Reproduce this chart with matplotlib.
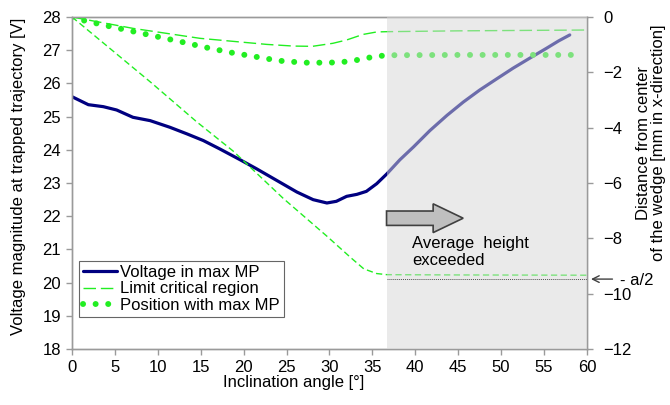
import matplotlib
matplotlib.use('Agg')
import matplotlib.pyplot as plt
from matplotlib.patches import FancyArrow

plt.rcParams['font.family'] = ['Liberation Sans', 'DejaVu Sans']
plt.rcParams['font.size'] = 12

# Voltage in max MP (left axis, V)
angle_v = [0, 1.9, 3.65, 5.2, 7.1, 9.1, 11.4, 13.4, 15.3, 17.2, 19.6, 21.5, 23.85,
           26.2, 28.1, 29.7, 30.8, 32.0, 33.2, 34.3, 35.5, 36.7, 38.2, 39.8, 41.7,
           43.7, 45.6, 47.5, 49.5, 51.4, 53.4, 55.3, 56.7, 58.0]
voltage = [25.60, 25.36, 25.30, 25.20, 24.98, 24.88, 24.68, 24.48, 24.28, 24.03,
           23.70, 23.43, 23.08, 22.73, 22.50, 22.40, 22.45, 22.60, 22.66, 22.75,
           22.98, 23.28, 23.70, 24.09, 24.58, 25.04, 25.44, 25.80, 26.14, 26.46,
           26.77, 27.06, 27.28, 27.46]

# Limit critical region (right axis, mm) - upper and lower branch
angle_lim_up = [0, 7.1, 14.9, 22.7, 25.8, 28.0, 30.4, 32.0, 33.9, 35.5, 36.7, 45, 60]
limit_up = [0, -0.41, -0.77, -0.99, -1.05, -1.06, -0.95, -0.83, -0.63, -0.54, -0.53,
            -0.50, -0.47]
angle_lim_lo = [0, 9.1, 14.5, 18.8, 24.6, 29.7, 32.5, 34.0, 35.5, 36.7, 45, 60]
limit_lo = [0, -2.34, -3.78, -4.85, -6.55, -7.92, -8.70, -9.10, -9.27, -9.31,
            -9.32, -9.33]

# Position with max MP (right axis, mm)
angle_pos = [0, 1.44, 4.27, 7.1, 9.94, 12.78, 15.6, 18.45, 21.28, 24.15, 27.0, 29.9,
             31.4, 32.8, 34.2, 35.7, 37.1, 45, 58.8]
position = [0, -0.13, -0.33, -0.52, -0.71, -0.90, -1.10, -1.28, -1.43, -1.58, -1.65,
            -1.65, -1.63, -1.58, -1.49, -1.41, -1.38, -1.37, -1.37]

half_a = -9.47          # - a/2 level
shade_start = 36.7      # average height exceeded

green = '#22ee22'
navy = '#000080'
spine_gray = '#9a9a9a'

fig, ax1 = plt.subplots(figsize=(6.7, 4.05), dpi=100)
fig.subplots_adjust(left=0.1075, right=0.876, bottom=0.138, top=0.958)
ax2 = ax1.twinx()

l1, = ax1.plot(angle_v, voltage, color=navy, lw=2.3, solid_joinstyle='round',
               solid_capstyle='round', label='Voltage in max MP')
l2, = ax2.plot(angle_lim_up, limit_up, color=green, lw=1.0, dashes=(9, 3.5),
               label='Limit critical region')
ax2.plot(angle_lim_lo, limit_lo, color=green, lw=1.0, dashes=(4.5, 2.5))
l3, = ax2.plot(angle_pos, position, color=green, lw=4.3, dash_capstyle='round',
               linestyle=(0, (0.01, 2.1)), label='Position with max MP')

ax2.plot([shade_start, 60], [half_a, half_a], color='#505050', lw=0.7, ls=(0, (1, 1)),
         zorder=6)

ax2.axvspan(shade_start, 60, color='#d6d6d6', alpha=0.51, lw=0, zorder=5)

arrow = FancyArrow(36.65, -7.27, 8.93, 0, width=0.52, head_width=1.04,
                   head_length=3.5, length_includes_head=True,
                   fc='#bfbfbf', ec='#404040', lw=1.2, zorder=7)
ax2.add_patch(arrow)
ax2.text(39.6, -7.9, 'Average  height\nexceeded', va='top', ha='left',
         linespacing=1.2, zorder=7)

ax2.annotate('', xy=(60.15, half_a), xytext=(63.3, half_a),
             arrowprops=dict(arrowstyle='->', color='#404040', lw=1.0),
             annotation_clip=False)
ax2.text(63.8, half_a - 0.05, '- a/2', va='center', ha='left')

ax1.set_xlim(0, 60)
ax1.set_ylim(18, 28)
ax2.set_ylim(-12, 0)
ax1.set_xticks(range(0, 61, 5))
ax1.set_yticks(range(18, 29))
ax2.set_yticks(range(-12, 1, 2))

for ax in (ax1, ax2):
    for s in ax.spines.values():
        s.set_color(spine_gray)
        s.set_linewidth(1.0)
ax1.tick_params(axis='both', color=spine_gray, length=4, width=1.0, pad=4)
ax2.tick_params(axis='y', color=spine_gray, length=4, width=1.0, pad=8)

ax1.set_xlabel('Inclination angle [°]')
ax1.xaxis.set_label_coords(0.43, -0.078)
ax1.set_ylabel('Voltage magnitude at trapped trajectory [V]')
ax1.yaxis.set_label_coords(-0.089, 0.52)
ax2.set_ylabel('Distance from center\nof the wedge [mm in x-direction]',
               multialignment='center', linespacing=1.0)
ax2.yaxis.set_label_coords(1.095, 0.62)

leg = ax2.legend(handles=[l1, l2, l3], loc='lower left',
                 bbox_to_anchor=(0.0136, 0.096), frameon=True, fancybox=False,
                 borderaxespad=0, handlelength=2.0, handletextpad=0.2,
                 labelspacing=0.1, borderpad=0.25)
leg.get_frame().set_edgecolor('#404040')
leg.get_frame().set_linewidth(0.8)
leg.set_zorder(10)

fig.savefig('out.png', dpi=100)
